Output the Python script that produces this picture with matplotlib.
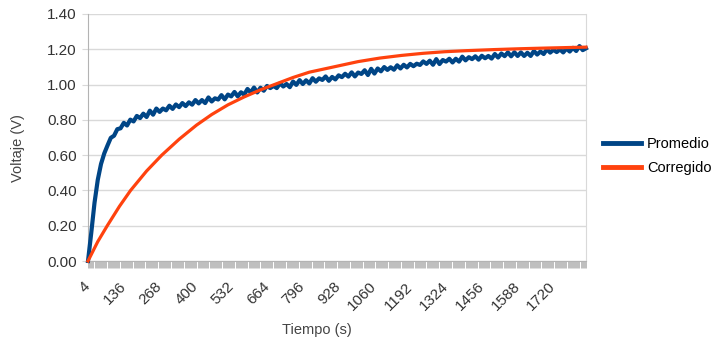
import matplotlib
matplotlib.use("Agg")
import matplotlib.pyplot as plt
import numpy as np

plt.rcParams["font.family"] = ["Liberation Sans", "DejaVu Sans"]

BLUE = "#004586"
ORANGE = "#ff420e"
GRID = "#d9d9d9"
TEXT = "#333333"

# muestras del promedio, cada 12 s desde t = 4 s
tiempo_prom = np.arange(4, 1841, 12)
promedio = [
    0.000, 0.160, 0.330, 0.460, 0.550, 0.610, 0.655, 0.698, 0.710, 0.747,
    0.752, 0.783, 0.768, 0.801, 0.791, 0.822, 0.810, 0.835, 0.816, 0.852,
    0.829, 0.864, 0.845, 0.864, 0.854, 0.880, 0.862, 0.887, 0.872, 0.895,
    0.878, 0.899, 0.886, 0.912, 0.893, 0.912, 0.895, 0.927, 0.904, 0.922,
    0.915, 0.940, 0.916, 0.943, 0.933, 0.958, 0.933, 0.956, 0.943, 0.975,
    0.955, 0.983, 0.955, 0.982, 0.965, 0.992, 0.980, 0.992, 0.980, 1.007,
    0.989, 1.003, 0.985, 1.017, 0.998, 1.025, 1.003, 1.024, 1.006, 1.036,
    1.016, 1.035, 1.026, 1.046, 1.021, 1.043, 1.029, 1.052, 1.042, 1.061,
    1.045, 1.069, 1.046, 1.068, 1.060, 1.081, 1.054, 1.089, 1.062, 1.091,
    1.075, 1.099, 1.083, 1.098, 1.084, 1.109, 1.091, 1.112, 1.097, 1.117,
    1.104, 1.118, 1.111, 1.131, 1.117, 1.135, 1.112, 1.144, 1.116, 1.139,
    1.130, 1.146, 1.125, 1.146, 1.130, 1.158, 1.137, 1.155, 1.144, 1.160,
    1.141, 1.163, 1.149, 1.162, 1.147, 1.173, 1.153, 1.176, 1.161, 1.182,
    1.160, 1.183, 1.162, 1.182, 1.162, 1.180, 1.162, 1.190, 1.170, 1.187,
    1.173, 1.200, 1.181, 1.197, 1.184, 1.199, 1.182, 1.204, 1.187, 1.208,
    1.190, 1.218, 1.195, 1.205,
]

# curva corregida (suave)
tiempo_corr = [4, 40, 75, 120, 161, 220, 276, 340, 404, 460, 520, 580, 640,
               700, 760, 820, 880, 940, 1000, 1080, 1160, 1240, 1320, 1400,
               1500, 1600, 1700, 1840]
corregido = [0.0, 0.11, 0.20, 0.31, 0.40, 0.51, 0.60, 0.69, 0.77, 0.83,
             0.885, 0.93, 0.97, 1.005, 1.04, 1.07, 1.09, 1.11, 1.13, 1.15,
             1.165, 1.177, 1.186, 1.192, 1.198, 1.203, 1.207, 1.212]

etiquetas_x = [4, 136, 268, 400, 532, 664, 796, 928, 1060, 1192, 1324,
               1456, 1588, 1720]
categorias = np.arange(4, 1841, 4)
ticks_y = [0.0, 0.2, 0.4, 0.6, 0.8, 1.0, 1.2, 1.4]

fig = plt.figure(figsize=(7.19, 3.47), dpi=100)
ax = fig.add_axes([0.1224, 0.2478, 0.6926, 0.712])

ax.plot(tiempo_prom, promedio, color=BLUE, lw=3.0, label="Promedio",
        clip_on=False, zorder=3)
ax.plot(tiempo_corr, corregido, color=ORANGE, lw=2.3, label="Corregido",
        clip_on=False, zorder=4)

ax.set_xlim(4, 1840)
ax.set_ylim(0, 1.4)
ax.set_yticks(ticks_y)
ax.set_yticklabels([f"{v:.2f}" for v in ticks_y])
ax.set_xticks(etiquetas_x)
ax.set_xticklabels([str(v) for v in etiquetas_x], rotation=45, ha="right",
                   va="center", rotation_mode="anchor")
ax.set_xticks(categorias, minor=True)

ax.grid(axis="y", color=GRID, lw=1)
ax.set_axisbelow(True)
ax.spines["top"].set_visible(False)
ax.spines["right"].set_color(GRID)
ax.spines["left"].set_color("#b3b3b3")
ax.spines["bottom"].set_color("#b3b3b3")

ax.tick_params(axis="y", length=4, color=GRID, pad=4, labelsize=11,
               labelcolor=TEXT)
ax.tick_params(axis="x", which="major", length=5, color="#b3b3b3",
               width=0.6, pad=12, labelsize=11, labelcolor=TEXT)
ax.tick_params(axis="x", which="minor", length=5, color="#b3b3b3", width=0.6)

fig.text(317 / 719, 1 - 330 / 347, "Tiempo (s)", ha="center", va="center",
         fontsize=10.5, color="#444444")
fig.text(18 / 719, 1 - 148 / 347, "Voltaje (V)", ha="center", va="center",
         rotation=90, fontsize=10.5, color="#444444")

fig.legend(loc="center left", bbox_to_anchor=(603 / 719, 1 - 156 / 347),
           frameon=False, fontsize=10.5, handlelength=2.6, handletextpad=0.4,
           labelspacing=0.7, borderpad=0, borderaxespad=0)
for line in fig.legends[0].get_lines():
    line.set_linewidth(3.5)

fig.savefig("out.png", dpi=100)
